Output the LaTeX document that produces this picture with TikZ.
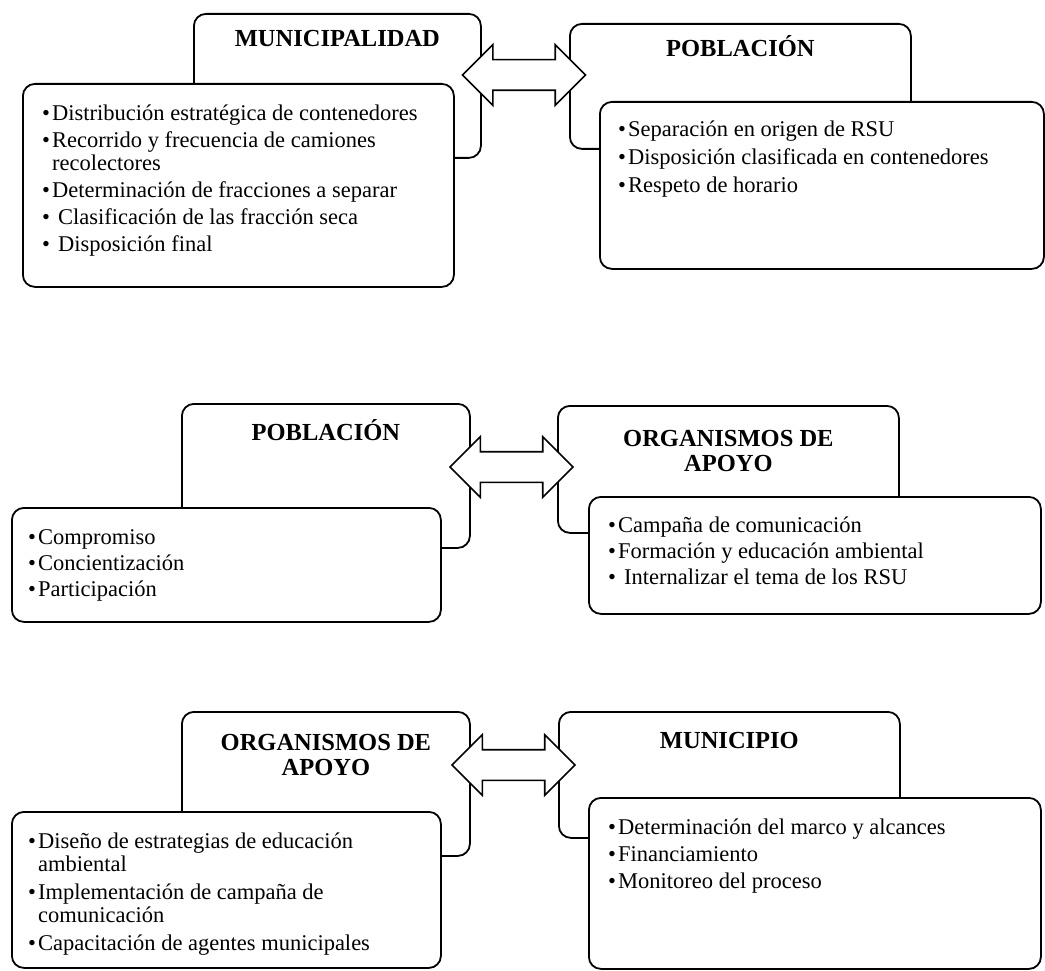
\documentclass[tikz,border=0pt]{standalone}
\usepackage{fontspec}
\setmainfont{Liberation Serif}
\usetikzlibrary{positioning, shapes.arrows}

\newcommand{\itm}{\makebox[10pt][l]{\textbullet}}
\newcommand{\itmx}{\makebox[16pt][l]{\textbullet}}
\newcommand{\cont}{\hspace*{10pt}}

\begin{document}
\begin{tikzpicture}[x=1pt, y=-1pt, node distance = 20pt]
				\tikzstyle{hdr} = [draw=black, line width=1.8pt, fill=white, rounded corners=12pt, anchor=north west, inner sep=0pt]
				\tikzstyle{body} = [hdr]
				\tikzstyle{ttl} = [inner sep=0pt, align=center, font=\fontsize{24.5}{25}\selectfont\bfseries]
				\tikzstyle{txt} = [inner sep=0pt, align=left, font=\fontsize{22.5}{23}\selectfont]
				\tikzstyle{dbl} = [shape=double arrow, draw=black, line width=1.7pt, fill=white, inner sep=0pt, text height=14.5pt, text depth=14.5pt, minimum height=123pt, double arrow head extend=15pt]
				
				\useasboundingbox (0,0) rectangle (1045,971);
				
				% first row
				\node[hdr, minimum width=287pt, minimum height=144pt]	at (193,13)		(h1)	{};
				\node[body, minimum width=431pt, minimum height=203pt]	at (22,83)		(c1)	{};
				\node[hdr, minimum width=341pt, minimum height=125pt]	at (569,23)		(h2)	{};
				\node[body, minimum width=444pt, minimum height=167pt]	at (599,101)	(c2)	{};
				\node[ttl, below=34pt of h1.north, anchor=base]		(t1)	{MUNICIPALIDAD};
				\node[ttl, below=34pt of h2.north, anchor=base]		(t2)	{POBLACIÓN};
				\node[txt, below right=22pt and 20pt of c1.north west]	(l1)	{\itm Distribución estratégica de contenedores\\[4pt]
					\itm Recorrido y frecuencia de camiones\\ \cont recolectores\\[4pt]
					\itm Determinación de fracciones a separar\\[4pt]
					\itmx Clasificación de las fracción seca\\[4pt]
					\itmx Disposición final};
				\node[txt, below right=20pt and 19pt of c2.north west]	(l2)	{\itm Separación en origen de RSU\\[5pt]
					\itm Disposición clasificada en contenedores\\[5pt]
					\itm Respeto de horario};
				\node[dbl]	at (524,75)		(a1)	{};
				
				% second row
				\node[hdr, minimum width=288pt, minimum height=144pt]	at (181,403)	(h3)	{};
				\node[body, minimum width=429pt, minimum height=114pt]	at (11,507)		(c3)	{};
				\node[hdr, minimum width=341pt, minimum height=127pt]	at (557,405)	(h4)	{};
				\node[body, minimum width=452pt, minimum height=117pt]	at (588,496)	(c4)	{};
				\node[ttl, below=37pt of h3.north, anchor=base]		(t3)	{POBLACIÓN};
				\node[ttl, below=66pt of h4.north, anchor=base]		(t4)	{ORGANISMOS DE\\APOYO};
				\node[txt, below right=22pt and 17pt of c3.north west]	(l3)	{\itm Compromiso\\[3pt]
					\itm Concientización\\[3pt]
					\itm Participación};
				\node[txt, below right=21pt and 20pt of c4.north west]	(l4)	{\itm Campaña de comunicación\\[3pt]
					\itm Formación y educación ambiental\\[3pt]
					\itmx Internalizar el tema de los RSU};
				\node[dbl]	at (511.5,467)	(a2)	{};
				
				% third row
				\node[hdr, minimum width=288pt, minimum height=144pt]	at (181,711)	(h5)	{};
				\node[body, minimum width=429pt, minimum height=156pt]	at (11,811)		(c5)	{};
				\node[hdr, minimum width=341pt, minimum height=126pt]	at (558,711)	(h6)	{};
				\node[body, minimum width=452pt, minimum height=171pt]	at (588,797)	(c6)	{};
				\node[ttl, below=64pt of h5.north, anchor=base]		(t5)	{ORGANISMOS DE\\APOYO};
				\node[ttl, below=37pt of h6.north, anchor=base]		(t6)	{MUNICIPIO};
				\node[txt, below right=22pt and 17pt of c5.north west]	(l5)	{\itm Diseño de estrategias de educación\\ \cont ambiental\\[5pt]
					\itm Implementación de campaña de\\ \cont comunicación\\[5pt]
					\itm Capacitación de agentes municipales};
				\node[txt, below right=22pt and 20pt of c6.north west]	(l6)	{\itm Determinación del marco y alcances\\[4pt]
					\itm Financiamiento\\[4pt]
					\itm Monitoreo del proceso};
				\node[dbl]	at (513.5,765)	(a3)	{};
			\end{tikzpicture}
\end{document}
